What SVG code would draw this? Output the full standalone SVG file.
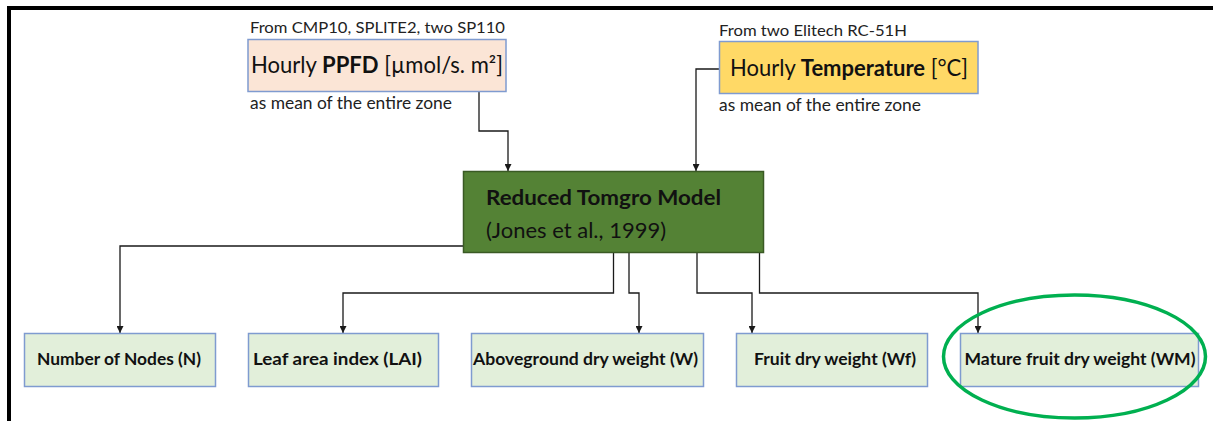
<svg xmlns="http://www.w3.org/2000/svg" width="1213" height="421" viewBox="0 0 1213 421">
  <defs>
    <style>
      .src { font-family: Lato, "Liberation Sans", sans-serif; font-size: 15.5px; fill: #222; }
      .note { font-family: Lato, "Liberation Sans", sans-serif; font-size: 17px; fill: #222; }
      .big { font-family: Lato, "Liberation Sans", sans-serif; font-size: 22.5px; fill: #111; }
      .out { font-family: Lato, "Liberation Sans", sans-serif; font-size: 17.5px; font-weight: bold; fill: #111; }
      .model { font-family: Lato, "Liberation Sans", sans-serif; font-size: 21.5px; fill: #111; }
      .outbox { fill: #E2EFDA; stroke: #7f9bd0; stroke-width: 1.5; }
      .wire { fill: none; stroke: #1a1a1a; stroke-width: 1.3; marker-end: url(#tip); }
    </style>
    <marker id="tip" viewBox="0 0 10 10" refX="10" refY="5" markerWidth="7" markerHeight="7" markerUnits="userSpaceOnUse" orient="auto">
      <path d="M0,0 L10,5 L0,10 z" fill="#1a1a1a"/>
    </marker>
  </defs>

  <rect width="1213" height="421" fill="#ffffff"/>

  <!-- frame lines -->
  <path d="M9,421 V8 H1213" fill="none" stroke="#000" stroke-width="4"/>

  <!-- connectors -->
  <g id="connectors">
    <path class="wire" d="M479,92 V131 H508 V171"/>
    <path class="wire" d="M719,69 H696 V171"/>
    <path class="wire" d="M463,246 H120 V333"/>
    <path class="wire" d="M613.5,253 V293 H343 V333"/>
    <path class="wire" d="M629,253 V293 H639 V333"/>
    <path class="wire" d="M697,253 V293 H752 V333"/>
    <path class="wire" d="M759.5,253 V293 H978 V333"/>
  </g>

  <!-- light input -->
  <g id="ppfd">
    <text class="src" x="250" y="32.5" textLength="255" lengthAdjust="spacingAndGlyphs">From CMP10, SPLITE2, two SP110</text>
    <rect x="248" y="39.5" width="258" height="52" fill="#FBE5D6" stroke="#7f9bd0" stroke-width="1.5"/>
    <text class="big" x="251" y="73" textLength="252" lengthAdjust="spacingAndGlyphs">Hourly <tspan font-weight="bold">PPFD</tspan> [µmol/s. m²]</text>
    <text class="note" x="250" y="109" textLength="202" lengthAdjust="spacingAndGlyphs">as mean of the entire zone</text>
  </g>

  <!-- temperature input -->
  <g id="temperature">
    <text class="src" x="719" y="35.5" textLength="188" lengthAdjust="spacingAndGlyphs">From two Elitech RC-51H</text>
    <rect x="719.5" y="41.5" width="258.5" height="52" fill="#FFD966" stroke="#7f9bd0" stroke-width="1.5"/>
    <text class="big" x="730" y="76" textLength="238" lengthAdjust="spacingAndGlyphs">Hourly <tspan font-weight="bold">Temperature</tspan> [°C]</text>
    <text class="note" x="719" y="110.5" textLength="202" lengthAdjust="spacingAndGlyphs">as mean of the entire zone</text>
  </g>

  <!-- model -->
  <g id="model">
    <rect x="463.5" y="171.5" width="300" height="81" fill="#548235" stroke="#3a5a24" stroke-width="1.5"/>
    <text class="model" x="486" y="205" font-weight="bold" textLength="235" lengthAdjust="spacingAndGlyphs">Reduced Tomgro Model</text>
    <text class="model" x="486" y="238" textLength="180" lengthAdjust="spacingAndGlyphs">(Jones et al., 1999)</text>
  </g>

  <!-- outputs -->
  <g id="out-n">
    <rect class="outbox" x="24.5" y="333.5" width="191" height="53"/>
    <text class="out" x="37" y="365" textLength="164" lengthAdjust="spacingAndGlyphs">Number of Nodes (N)</text>
  </g>
  <g id="out-lai">
    <rect class="outbox" x="248.5" y="333.5" width="190" height="53"/>
    <text class="out" x="253" y="365" textLength="169" lengthAdjust="spacingAndGlyphs">Leaf area index (LAI)</text>
  </g>
  <g id="out-w">
    <rect class="outbox" x="471.5" y="333.5" width="232" height="53"/>
    <text class="out" x="473" y="365" textLength="225" lengthAdjust="spacingAndGlyphs">Aboveground dry weight (W)</text>
  </g>
  <g id="out-wf">
    <rect class="outbox" x="736.5" y="333.5" width="191" height="53"/>
    <text class="out" x="754" y="365" textLength="162" lengthAdjust="spacingAndGlyphs">Fruit dry weight (Wf)</text>
  </g>
  <g id="out-wm">
    <rect class="outbox" x="960.5" y="333.5" width="238" height="53"/>
    <text class="out" x="964.5" y="365" textLength="231" lengthAdjust="spacingAndGlyphs">Mature fruit dry weight (WM)</text>
  </g>

  <!-- highlight ring -->
  <ellipse cx="1074.5" cy="356.5" rx="131" ry="61.5" fill="none" stroke="#00B050" stroke-width="3.5"/>
</svg>
